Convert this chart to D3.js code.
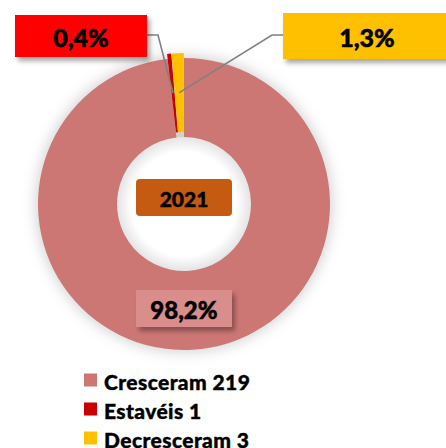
<!DOCTYPE html>
<html>
<head>
<meta charset="utf-8">
<script src="https://cdn.jsdelivr.net/npm/d3@7"></script>
<style>
  body { margin: 0; background: #fff; }
  svg { display: block; font-family: Lato, "Open Sans", sans-serif; }
</style>
</head>
<body>
<svg id="chart"></svg>
<script>
// data
const categories = ["Cresceram", "Estavéis", "Decresceram"];
const counts = [219, 1, 3];
const pctLabels = ["98,2%", "0,4%", "1,3%"];
const yearLabel = "2021";
const colors = ["#CD7775", "#C80000", "#FFC000"];
const labelFills = ["#D98E8C", "#FF0000", "#FFC000"];

const width = 446, height = 448;
const cx = 184, cy = 204, outerR = 146, innerR = 67;
const explode = 5;

const svg = d3.select("#chart").attr("width", width).attr("height", height);
const defs = svg.append("defs");

defs.append("filter").attr("id", "ringShadow")
  .attr("x", "-30%").attr("y", "-30%").attr("width", "160%").attr("height", "160%")
  .append("feGaussianBlur").attr("stdDeviation", 7);

const boxSh = defs.append("filter").attr("id", "boxShadow")
  .attr("x", "-20%").attr("y", "-30%").attr("width", "150%").attr("height", "180%");
boxSh.append("feDropShadow").attr("dx", 3).attr("dy", 4).attr("stdDeviation", 2.5)
  .attr("flood-color", "#000").attr("flood-opacity", 0.35);

const holeGrad = defs.append("radialGradient").attr("id", "holeGrad");
holeGrad.append("stop").attr("offset", "78%").attr("stop-color", "#fff");
holeGrad.append("stop").attr("offset", "100%").attr("stop-color", "#e4e4e4");

const data = categories.map((c, i) => ({ name: c, value: counts[i], i }));
const pie = d3.pie().sort(null).value(d => d.value);
const arcs = pie(data);
const arc = d3.arc().innerRadius(innerR).outerRadius(outerR);

const g = svg.append("g").attr("transform", `translate(${cx},${cy})`);

// soft shadow around the ring
g.append("circle").attr("r", outerR + 2).attr("fill", "#9a9a9a")
  .attr("opacity", 0.45).attr("filter", "url(#ringShadow)");
g.append("circle").attr("r", innerR).attr("fill", "url(#holeGrad)");

function offset(d) {
  if (d.data.i === 0) return [0, 0];
  const a = (d.startAngle + d.endAngle) / 2;
  return [Math.sin(a) * explode, -Math.cos(a) * explode];
}

g.selectAll("path.slice")
  .data(arcs)
  .join("path")
  .attr("class", "slice")
  .attr("fill", d => colors[d.data.i])
  .attr("transform", d => `translate(${offset(d)})`)
  .attr("d", arc);

// leader lines for the small slices
const leaders = [
  { i: 1, pts: [[147, 35], [158, 35]] },
  { i: 2, pts: [[283, 35], [272, 35]] }
];
leaders.forEach(l => {
  const d = arcs[l.i];
  const c = arc.centroid(d);
  const o = offset(d);
  const end = [cx + c[0] + o[0], cy + c[1] + o[1]];
  svg.append("polyline")
    .attr("points", [...l.pts, end].map(p => p.join(",")).join(" "))
    .attr("fill", "none").attr("stroke", "#808080").attr("stroke-width", 1.6);
});

// label boxes
const boxes = [
  { i: 0, x: 136, y: 290, w: 96, h: 37, fs: 24 },
  { i: 1, x: 15, y: 15, w: 132, h: 42, fs: 25 },
  { i: 2, x: 283, y: 13, w: 170, h: 46, fs: 25 }
];
boxes.forEach(b => {
  svg.append("rect").attr("x", b.x).attr("y", b.y).attr("width", b.w).attr("height", b.h)
    .attr("fill", labelFills[b.i]).attr("filter", "url(#boxShadow)");
  const tx = b.i === 2 ? b.x + 84 : b.x + b.w / 2;
  svg.append("text").attr("x", tx).attr("y", b.y + b.h / 2 + 1)
    .attr("text-anchor", "middle").attr("dominant-baseline", "central")
    .attr("font-size", b.fs).attr("font-weight", 900).attr("fill", "#000")
    .attr("stroke", "#000").attr("stroke-width", 0.5)
    .text(pctLabels[b.i]);
});

// year tag in the hole
svg.append("rect").attr("x", 136).attr("y", 179).attr("width", 96).attr("height", 37)
  .attr("rx", 4).attr("fill", "#C55A11");
svg.append("text").attr("x", 184).attr("y", 198)
  .attr("text-anchor", "middle").attr("dominant-baseline", "central")
  .attr("font-size", 21).attr("font-weight", 900)
  .attr("stroke", "#000").attr("stroke-width", 0.4)
  .text(yearLabel);

// legend
const legend = svg.append("g").attr("transform", "translate(84,380)");
const rows = legend.selectAll("g").data(data).join("g")
  .attr("transform", (d, i) => `translate(0,${i * 29})`);
rows.append("rect").attr("x", 0).attr("y", -6.5).attr("width", 13).attr("height", 13)
  .attr("fill", d => colors[d.i]);
rows.append("text").attr("x", 20).attr("y", 1)
  .attr("dominant-baseline", "central")
  .attr("font-size", 21).attr("font-weight", 900)
  .attr("letter-spacing", 0.4)
  .attr("stroke", "#000").attr("stroke-width", 0.4)
  .text(d => `${d.name} ${d.value}`);
</script>
</body>
</html>
